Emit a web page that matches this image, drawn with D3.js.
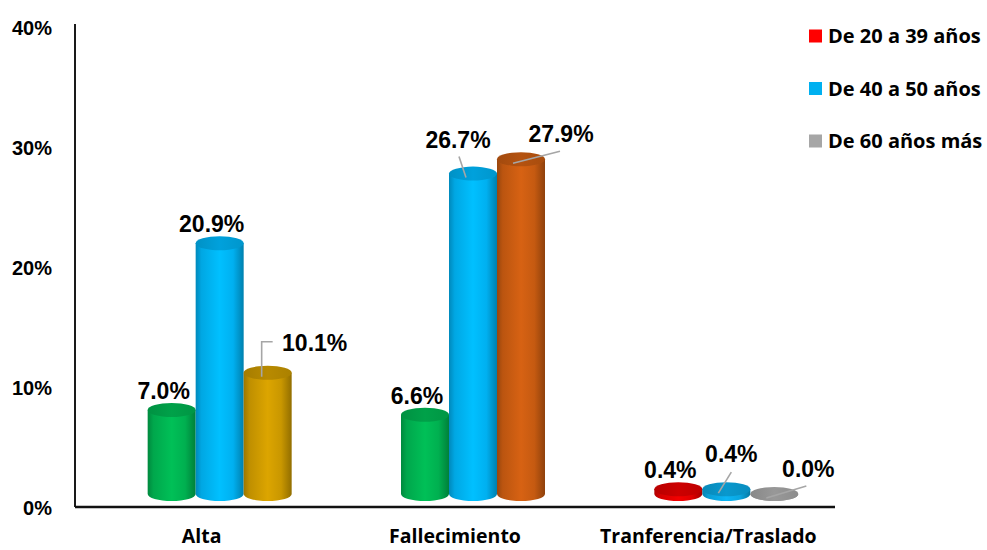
<!DOCTYPE html>
<html>
<head>
<meta charset="utf-8">
<script src="https://cdn.jsdelivr.net/npm/d3@7"></script>
<style>
  html, body { margin: 0; padding: 0; background: #fff; }
  svg { display: block; }
</style>
</head>
<body>
<svg id="chart" width="987" height="550"></svg>
<script>
// Categories, series and values (percent)
const categories = ["Alta", "Fallecimiento", "Tranferencia/Traslado"];
const seriesNames = ["De 20 a 39 años", "De 40 a 50 años", "De 60 años más"];
const valAlta = [7.0, 20.9, 10.1];
const valFallecimiento = [6.6, 26.7, 27.9];
const valTraslado = [0.4, 0.4, 0.0];
const yTicks = [0, 10, 20, 30, 40];

// Colours: each category group paints its own cylinders; the legend uses the series colours
const legendColors = ["#FF0000", "#00B0F0", "#A6A6A6"];
const groupColors = [
  ["#00B050", "#00B0F0", "#C99700"],
  ["#00B050", "#00B0F0", "#C55A11"],
  ["#E00000", "#0AA6E0", "#A6A6A6"]
];

// Label placement: offset from the cylinder top, and optional leader line
// (points are relative to the top-centre of the cylinder)
const labelLayout = {
  "0-2": { dx: 47, dy: -22, leader: [[5, -31], [-6, -31], [-6, 4]] },
  "1-1": { dx: -15, dy: -26, leader: [[-14, -17], [-7, 4]] },
  "1-2": { dx: 40, dy: -17, leader: [[39, -8], [-8, 4]] },
  "2-1": { dx: 5, dy: -27, leader: [[5, -17], [-8, 4]] },
  "2-2": { dx: 34, dy: -17, leader: [[32, -8], [-8, 4]] }
};

const values = [valAlta, valFallecimiento, valTraslado];
const rows = [];
categories.forEach((c, i) => {
  values[i].forEach((v, j) => rows.push({ cat: c, ci: i, si: j, value: v, color: groupColors[i][j] }));
});

const svg = d3.select("#chart");
const defs = svg.append("defs");

const plot = { left: 75, right: 835, top: 27, bottom: 507 };
const depthX = 18, depthY = -13;   // 3-D floor offset
const rx = 24, ry = 7;

const x = d3.scaleBand().domain(categories).range([plot.left, plot.right]).padding(0);
const xs = d3.scaleBand().domain(d3.range(3)).range([-72, 72]).padding(0);
const y = d3.scaleLinear().domain([0, 40]).range([plot.bottom, plot.top]);

// Y axis
const yAxis = d3.axisLeft(y).tickValues(yTicks).tickFormat(d => d + "%").tickSize(0).tickPadding(23);
const gy = svg.append("g").attr("transform", `translate(${plot.left},0)`).call(yAxis);
gy.select(".domain").attr("stroke", "#1a1a1a").attr("stroke-width", 2).attr("d", `M0,24V${plot.bottom}`);
gy.selectAll("text")
  .attr("font-family", "'Liberation Sans', Arial, sans-serif")
  .attr("font-weight", "bold").attr("font-size", 20).attr("fill", "#000")
  .attr("dy", "0.38em");

// X axis
const xAxis = d3.axisBottom(x).tickSize(0).tickPadding(22);
const gx = svg.append("g").attr("transform", `translate(0,${plot.bottom})`).call(xAxis);
gx.select(".domain").attr("stroke", "#111").attr("stroke-width", 2.6).attr("d", `M${plot.left},0H${plot.right}`);
gx.selectAll("text")
  .attr("font-family", "'Open Sans', sans-serif")
  .attr("font-weight", "bold").attr("font-size", 19.5).attr("fill", "#000");

// Cylinders
function cylinderGeom(d) {
  const cx = x(d.cat) + x.bandwidth() / 2 + depthX + xs(d.si) + xs.bandwidth() / 2;
  const yb = y(0) + depthY;
  const yt = y(d.value) + depthY;
  return { cx, yb, yt };
}

rows.forEach((d, k) => {
  const base = d3.color(d.color);
  const g = defs.append("linearGradient").attr("id", "body" + k).attr("x1", 0).attr("x2", 1).attr("y1", 0).attr("y2", 0);
  [[0, base.darker(0.7)], [0.12, base.darker(0.15)], [0.5, base.brighter(0.25)], [0.78, base], [1, base.darker(0.9)]]
    .forEach(([o, c]) => g.append("stop").attr("offset", o).attr("stop-color", c));
  const t = defs.append("linearGradient").attr("id", "top" + k).attr("x1", 0).attr("x2", 1).attr("y1", 0).attr("y2", 0);
  [[0, base.darker(0.55)], [0.5, base.darker(0.25)], [1, base.darker(0.45)]]
    .forEach(([o, c]) => t.append("stop").attr("offset", o).attr("stop-color", c));
});

const bars = svg.append("g");
rows.forEach((d, k) => {
  const { cx, yb, yt } = cylinderGeom(d);
  const body = `M${cx - rx},${yt}L${cx - rx},${yb}A${rx},${ry} 0 0 0 ${cx + rx},${yb}L${cx + rx},${yt}Z`;
  bars.append("path").attr("d", body).attr("fill", `url(#body${k})`);
  bars.append("ellipse").attr("cx", cx).attr("cy", yt).attr("rx", rx).attr("ry", ry)
    .attr("fill", `url(#top${k})`);
});

// Value labels and leader lines
const labels = svg.append("g");
rows.forEach(d => {
  const { cx, yt } = cylinderGeom(d);
  const lay = labelLayout[d.ci + "-" + d.si] || { dx: -8, dy: -11 };
  if (lay.leader) {
    labels.append("path")
      .attr("d", d3.line()(lay.leader.map(p => [cx + p[0], yt + p[1]])))
      .attr("fill", "none").attr("stroke", "#A6A6A6").attr("stroke-width", 1.6);
  }
  labels.append("text")
    .attr("x", cx + lay.dx).attr("y", yt + lay.dy)
    .attr("text-anchor", "middle")
    .attr("font-family", "'Liberation Sans', Arial, sans-serif")
    .attr("font-weight", "bold").attr("font-size", 23).attr("fill", "#000")
    .text(d.value.toFixed(1) + "%");
});

// Legend
const legend = svg.append("g").attr("transform", "translate(809,0)");
seriesNames.forEach((s, i) => {
  const cy = 36 + i * 52.5;
  legend.append("rect").attr("x", 0).attr("y", cy - 6.5).attr("width", 13).attr("height", 13).attr("fill", legendColors[i]);
  legend.append("text").attr("x", 19).attr("y", cy + 7)
    .attr("font-family", "'Open Sans', sans-serif")
    .attr("font-weight", "bold").attr("font-size", 20).attr("fill", "#000")
    .text(s);
});
</script>
</body>
</html>
